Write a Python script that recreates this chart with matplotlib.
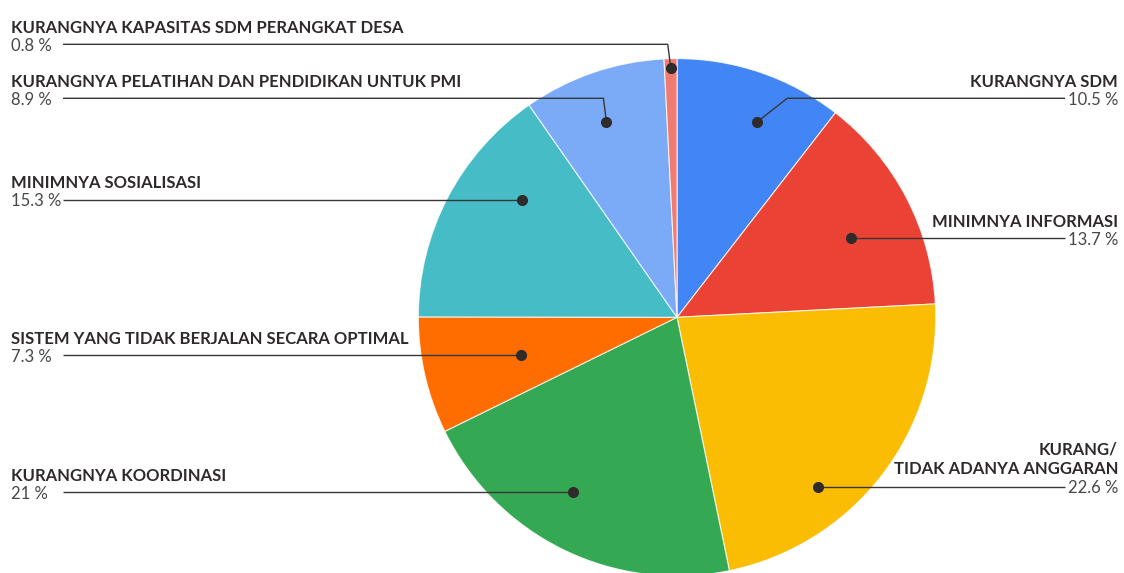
import numpy as np
import matplotlib
matplotlib.use("Agg")
import matplotlib.pyplot as plt

# Survey results: obstacles reported, in percent
categories = [
    "KURANGNYA SDM",
    "MINIMNYA INFORMASI",
    "KURANG/\nTIDAK ADANYA ANGGARAN",
    "KURANGNYA KOORDINASI",
    "SISTEM YANG TIDAK BERJALAN SECARA OPTIMAL",
    "MINIMNYA SOSIALISASI",
    "KURANGNYA PELATIHAN DAN PENDIDIKAN UNTUK PMI",
    "KURANGNYA KAPASITAS SDM PERANGKAT DESA",
]
values = [10.5, 13.7, 22.6, 21, 7.3, 15.3, 8.9, 0.8]
colors = ["#4285F4", "#EA4335", "#FBBC04", "#34A853",
          "#FF6D01", "#46BDC6", "#7BAAF7", "#F07B72"]

W, H = 1124, 573
CX, CY, R = 677, 317.3, 258.7        # pie centre / radius in pixels (y from top)

# Label layout (pixel rows from the top): side, leader-line row, anchor-dot row,
# elbow x-offset, anchor position along the slice chord
sides    = ["R", "R", "R", "L", "L", "L", "L", "L"]
line_y   = [98.3, 238.3, 486.5, 492.3, 355.2, 199.5, 98.3, 44.3]
dot_y    = [121.7, 238.3, 486.5, 492.3, 355.2, 199.5, 121.7, 67.7]
elbow_dx = [30, 0, 0, 0, 0, 0, -3, -3]
chord_t  = [0.53, 0.61, 0.66, 0.38, 0.56, 0.51, 0.52, 0.5]

fig = plt.figure(figsize=(W / 100, H / 100), dpi=100)
ax = fig.add_axes([0, 0, 1, 1])


def fy(py):
    return H - py


ax.pie(values, colors=colors, startangle=90, counterclock=False,
       radius=R, center=(CX, fy(CY)), frame=True,
       wedgeprops=dict(edgecolor=(1, 1, 1, 0.8), linewidth=0.8))
ax.set_xlim(0, W)
ax.set_ylim(0, H)
ax.set_aspect("equal")
ax.axis("off")

# slice boundaries in pie-angle terms (clockwise from 12 o'clock)
total = sum(values)
cum = np.concatenate([[0], np.cumsum(values)]) / total * 360.0


def chord_x(i, py):
    """Horizontal extent of slice i on pixel row py, returns x at fraction chord_t."""
    xs = np.linspace(CX - R, CX + R, 6000)
    dx = xs - CX
    dy = CY - py
    r = np.hypot(dx, dy)
    ang = (90 - np.degrees(np.arctan2(dy, dx))) % 360   # clockwise from top
    inside = (r <= R) & (ang >= cum[i]) & (ang <= cum[i + 1])
    if not inside.any():
        return CX
    x0, x1 = xs[inside].min(), xs[inside].max()
    return x0 + chord_t[i] * (x1 - x0)


line_col = "#3a3636"
title_kw = dict(fontsize=12, fontweight="bold", family="Lato",
                color="#2e2a2a", linespacing=1.3)
pct_kw = dict(fontsize=12, fontweight="normal", family="Lato", color="#4a4646")

for i, (cat, v) in enumerate(zip(categories, values)):
    dx_ = chord_x(i, dot_y[i])
    dyp = dot_y[i]
    ly = line_y[i]
    end_x = 63 if sides[i] == "L" else 1065
    if abs(ly - dyp) > 0.5:
        ex = dx_ + elbow_dx[i]
        xs = [dx_, ex, end_x]
        ys = [dyp, ly, ly]
    else:
        xs = [dx_, end_x]
        ys = [dyp, ly]
    ax.plot(xs, [fy(y) for y in ys], color=line_col, lw=1.0,
            solid_capstyle="butt", zorder=3)
    ax.plot([dx_], [fy(dyp)], "o", color="#2f2b2b", ms=8, mec="none", zorder=4)

    pct = f"{v:g} %"
    n_lines = cat.count("\n") + 1
    title_cy = ly - 16.5 - (n_lines - 1) * 10.9
    if sides[i] == "L":
        ax.text(11, fy(title_cy), cat, ha="left", va="center", **title_kw)
        ax.text(11, fy(ly + 1.6), pct, ha="left", va="center", **pct_kw)
    else:
        ax.text(1118, fy(title_cy), cat, ha="right", va="center",
                multialignment="right", **title_kw)
        ax.text(1118, fy(ly + 1.6), pct, ha="right", va="center", **pct_kw)

fig.savefig("out.png", dpi=100)
